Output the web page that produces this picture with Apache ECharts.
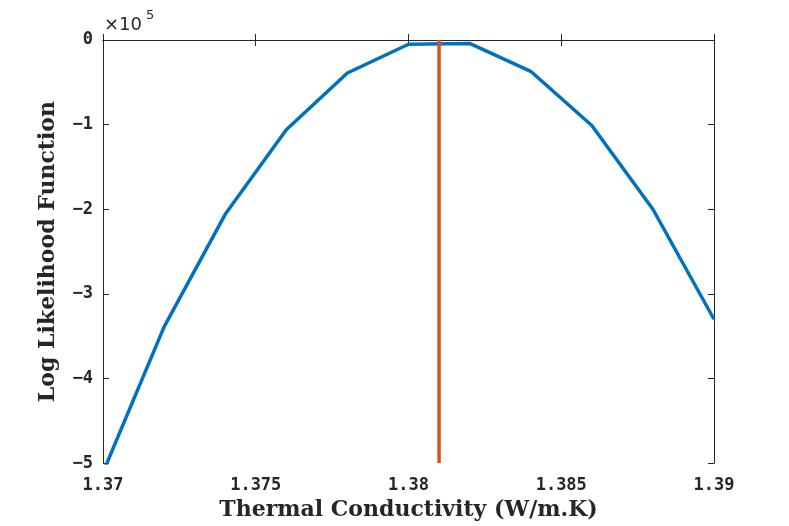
<!DOCTYPE html>
<html><head><meta charset="utf-8">
<script src="https://cdn.jsdelivr.net/npm/echarts@6/dist/echarts.min.js"></script>
<style>html,body{margin:0;padding:0;background:#fff}#c{width:789px;height:526px}</style>
</head><body><div id="c"></div>
<script>
const conductivity = [1.370, 1.372, 1.374, 1.376, 1.378, 1.380, 1.382, 1.384, 1.386, 1.388, 1.390];
const logLikelihood = [-5.11, -3.39, -2.06, -1.06, -0.39, -0.05, -0.04, -0.37, -1.01, -2.00, -3.30];
const bestEstimate = 1.381;
const xTicks = ['1.37', '1.375', '1.38', '1.385', '1.39'];
const yTicks = ['\u22125', '\u22124', '\u22123', '\u22122', '\u22121', '0'];

const chart = echarts.init(document.getElementById('c'), null, {renderer: 'canvas'});
const tickFont = {fontFamily: 'DejaVu Sans Mono', fontSize: 17, fontWeight: 'bold', color: '#262626'};
const axisLineStyle = {color: '#262626', width: 1};
const fmtX = v => { const i = Math.round((v - 1.37) / 0.005); return xTicks[i] !== undefined ? xTicks[i] : ''; };
const fmtY = v => { const i = Math.round(v + 5); return yTicks[i] !== undefined ? yTicks[i] : ''; };

chart.setOption({
  animation: false,
  grid: {left: 103, right: 75, top: 40, bottom: 62, containLabel: false},
  graphic: [{
    type: 'text', left: 104, top: 16,
    style: {text: '\u00d710', fontSize: 18, fontFamily: 'DejaVu Sans', fill: '#262626'}
  }, {
    type: 'text', left: 146, top: 9,
    style: {text: '5', fontSize: 13, fontFamily: 'DejaVu Sans', fill: '#262626'}
  }],
  xAxis: [{
    type: 'value', min: 1.37, max: 1.39, interval: 0.005,
    name: 'Thermal Conductivity (W/m.K)', nameLocation: 'middle', nameGap: 34,
    nameTextStyle: {fontFamily: 'DejaVu Serif', fontSize: 22, fontWeight: 'bold', color: '#262626'},
    axisLine: {show: true, lineStyle: axisLineStyle},
    axisTick: {show: true, inside: true, length: 6, lineStyle: axisLineStyle},
    axisLabel: Object.assign({formatter: fmtX, margin: 14}, tickFont),
    splitLine: {show: false}
  }, {
    type: 'value', min: 1.37, max: 1.39, interval: 0.005, position: 'top',
    axisLine: {show: true, lineStyle: axisLineStyle},
    axisTick: {show: true, inside: true, length: 6, lineStyle: axisLineStyle},
    axisLabel: {show: false}, splitLine: {show: false}
  }],
  yAxis: [{
    type: 'value', min: -5, max: 0, interval: 1,
    name: 'Log Likelihood Function', nameLocation: 'middle', nameGap: 44,
    nameTextStyle: {fontFamily: 'DejaVu Serif', fontSize: 22, fontWeight: 'bold', color: '#262626'},
    axisLine: {show: true, lineStyle: axisLineStyle},
    axisTick: {show: true, inside: true, length: 6, lineStyle: axisLineStyle},
    axisLabel: Object.assign({formatter: fmtY, margin: 10}, tickFont),
    splitLine: {show: false}
  }, {
    type: 'value', min: -5, max: 0, interval: 1, position: 'right',
    axisLine: {show: true, lineStyle: axisLineStyle},
    axisTick: {show: true, inside: true, length: 6, lineStyle: axisLineStyle},
    axisLabel: {show: false}, splitLine: {show: false}
  }],
  series: [{
    type: 'line', clip: true, symbol: 'none',
    data: conductivity.map((x, i) => [x, logLikelihood[i]]),
    lineStyle: {color: '#0072BD', width: 3.5}
  }, {
    type: 'line', clip: true, symbol: 'none',
    data: [[bestEstimate, -5], [bestEstimate, 0]],
    lineStyle: {color: '#D95319', width: 3.5}
  }]
});
</script></body></html>
